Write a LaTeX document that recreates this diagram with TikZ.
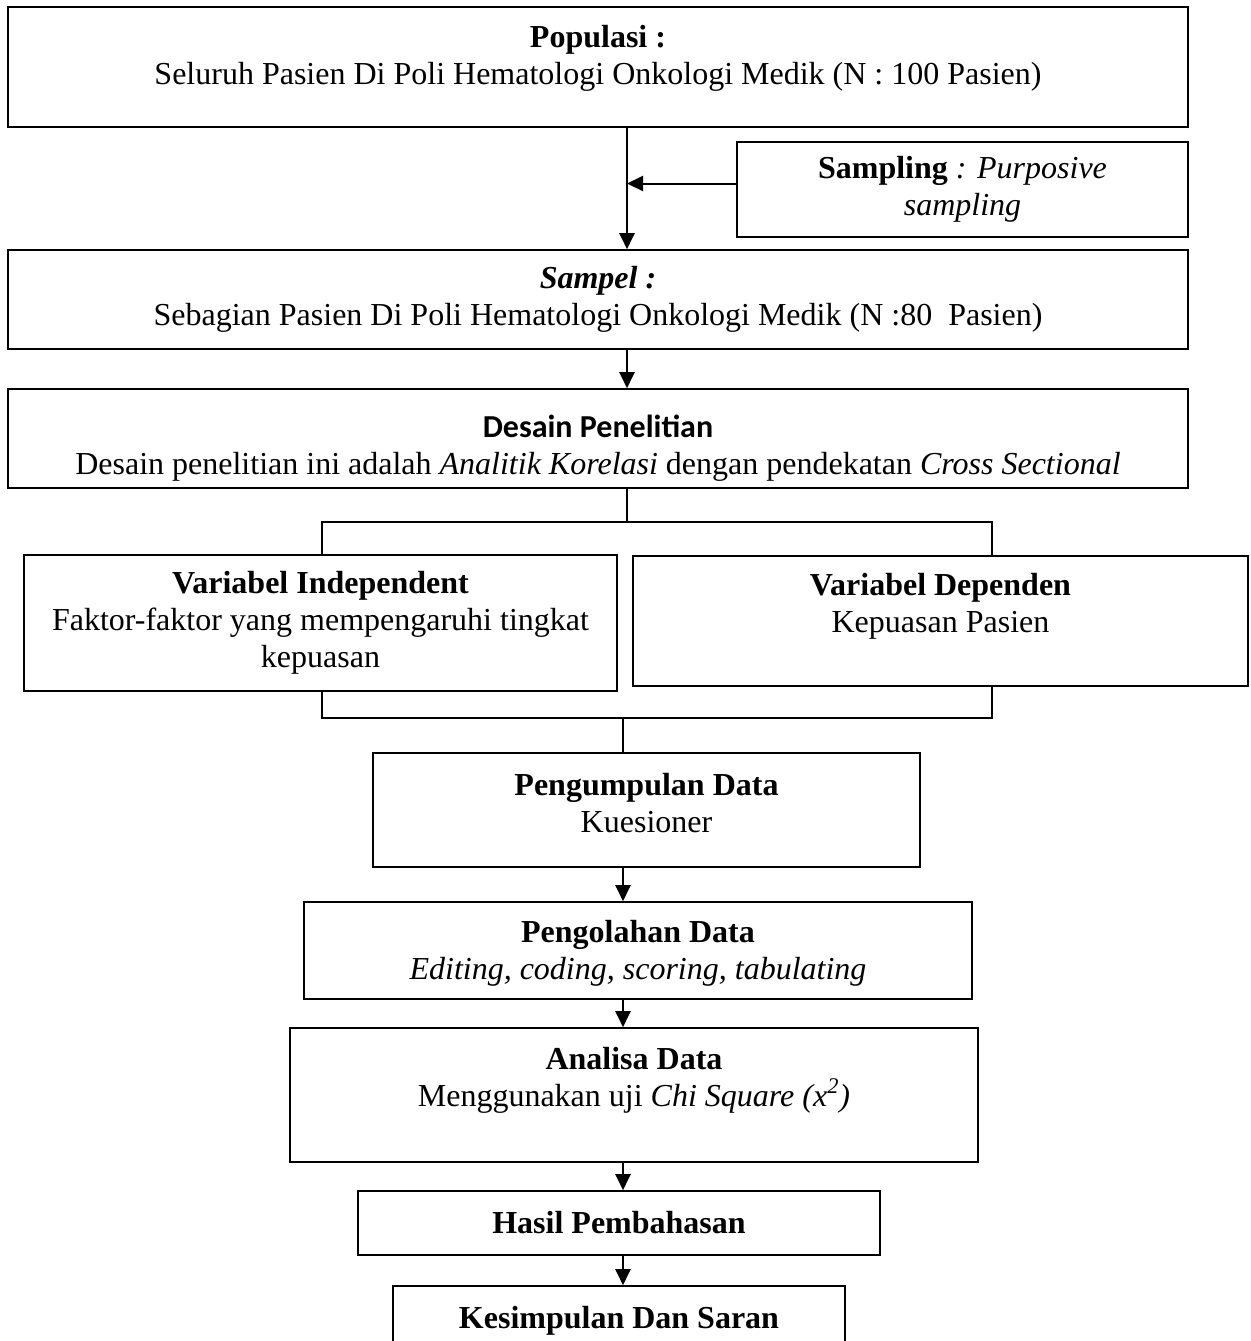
\documentclass[tikz,border=0pt]{standalone}
\usepackage{fontspec}
\setmainfont{Liberation Serif}
\newfontfamily\calibri{Carlito}
\usetikzlibrary{arrows.meta}

\begin{document}
\begin{tikzpicture}[x=0.5pt,y=-0.5pt,line width=0.8pt,
  font=\fontsize{16}{18.4}\selectfont,
  bx/.style={draw,align=center,inner sep=2pt},
  ar/.style={line width=1pt,-{Triangle[length=8pt,width=7.5pt]}},
  thinln/.style={line width=0.6pt}]
  \useasboundingbox (0,0) rectangle (1250,1341);
  \coordinate (axis) at (627,0);
  \coordinate (low) at (623,0);
  \node[bx,minimum width=590pt,minimum height=60pt] (pop) at (598,67){\textbf{Populasi :}\\Seluruh Pasien Di Poli Hematologi Onkologi Medik (N : 100 Pasien)\\[-6pt]\mbox{}};
  \node[bx,minimum width=225.5pt,minimum height=47.5pt] (samp) at (962.5,189.5){\textbf{Sampling} \textit{: Purposive}\\\textit{sampling}};
  \node[bx,minimum width=590pt,minimum height=49.5pt] (sampel) at (598,299.5){\textbf{\textit{Sampel :}}\\Sebagian Pasien Di Poli Hematologi Onkologi Medik (N :80~ Pasien)};
  \node[bx,minimum width=590pt,minimum height=49.5pt] (desain) at (598,438.5){\rule{0pt}{21pt}{\calibri\bfseries Desain Penelitian}\\Desain penelitian ini adalah \textit{Analitik Korelasi} dengan pendekatan \textit{Cross Sectional}};
  \node[bx,minimum width=296.5pt,minimum height=68pt] (indep) at (320.5,623){\textbf{Variabel Independent}\\Faktor-faktor yang mempengaruhi tingkat\\kepuasan};
  \node[bx,minimum width=307.5pt,minimum height=65pt] (dep) at (940.5,621){\textbf{Variabel Dependen}\\Kepuasan Pasien\\\mbox{}};
  \node[bx,minimum width=273.5pt,minimum height=57pt] (kumpul) at (646.5,810){\textbf{Pengumpulan Data}\\Kuesioner\\[-11pt]\mbox{}};
  \node[bx,minimum width=334pt,minimum height=48.5pt] (olah) at (638,950.5){\rule{0pt}{14pt}\textbf{Pengolahan Data}\\\textit{Editing, coding, scoring, tabulating}};
  \node[bx,minimum width=344pt,minimum height=67pt] (analisa) at (634,1095){\textbf{Analisa Data}\\Menggunakan uji \textit{Chi Square (x\textsuperscript{2})}\\\mbox{}};
  \node[bx,minimum width=261pt,minimum height=32pt] (hasil) at (619,1223){\textbf{Hasil Pembahasan}};
  \node[bx,minimum width=226pt,minimum height=32pt] (simpul) at (619,1318){\rule{0pt}{14pt}\textbf{Kesimpulan Dan Saran}};
  % sampling masuk ke jalur utama
  \draw[ar] (pop.south -| axis) -- (sampel.north -| axis);
  \draw[ar] ([yshift=3pt]samp.west) -- ([yshift=3pt]samp.west -| axis);
  \draw[ar] (sampel.south -| axis) -- (desain.north -| axis);
  % percabangan variabel
  \coordinate (jl) at (322,522);
  \coordinate (jr) at (992,522);
  \coordinate (kl) at (322,718);
  \coordinate (kr) at (992,718);
  \draw[thinln] (desain.south -| axis) -- (jl -| axis);
  \draw (indep.north -| jl) -- (jl) -- (jr) -- (dep.north -| jr);
  \draw (indep.south -| kl) -- (kl) -- (kr) -- (dep.south -| kr);
  \draw[thinln] (kl -| low) -- (kumpul.north -| low);
  % alur analisis
  \draw[ar] (kumpul.south -| low) -- (olah.north -| low);
  \draw[ar] (olah.south -| low) -- (analisa.north -| low);
  \draw[ar] (analisa.south -| low) -- (hasil.north -| low);
  \draw[ar] (hasil.south -| low) -- (simpul.north -| low);
\end{tikzpicture}
\end{document}
